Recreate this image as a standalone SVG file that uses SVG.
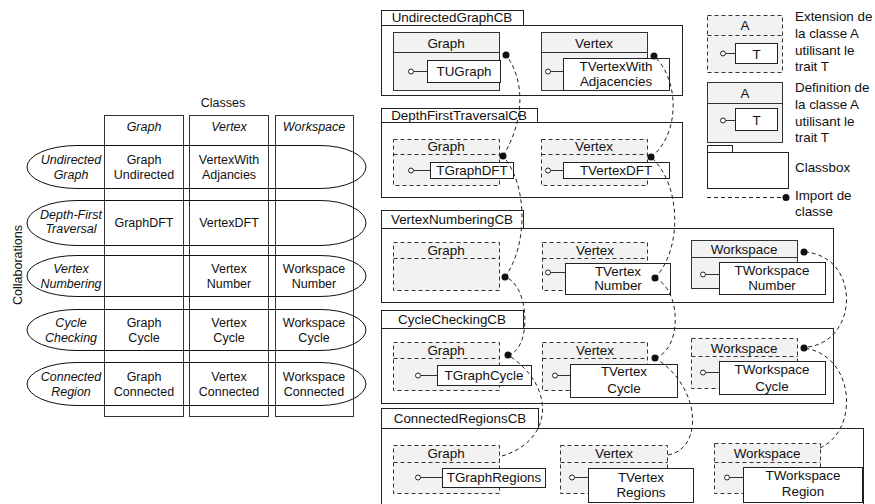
<svg xmlns="http://www.w3.org/2000/svg" width="875" height="504" viewBox="0 0 875 504">
<style>
text{font-family:"Liberation Sans",Arial,sans-serif;fill:#111}
.t{font-size:12.5px;text-anchor:middle}
.i{font-style:italic}
.r{font-size:13.4px;text-anchor:middle}
.l{font-size:13.4px}
.col{fill:none;stroke:#333;stroke-width:1}
.ell{fill:none;stroke:#111;stroke-width:1}
.cb{fill:#fff;stroke:#222;stroke-width:1}
.cls{fill:#f2f2f2;stroke:#333;stroke-width:1}
.ext{fill:#f2f2f2;stroke:#333;stroke-width:1;stroke-dasharray:4 3}
.div{stroke:#333;stroke-width:1;fill:none}
.divd{stroke:#333;stroke-width:1;fill:none;stroke-dasharray:4 3}
.tr{fill:#fff;stroke:#222;stroke-width:1}
.pin{fill:#fff;stroke:#222;stroke-width:1}
.imp{fill:none;stroke:#222;stroke-width:1;stroke-dasharray:4 3}
.dot{fill:#111}
</style>

<!-- Left table -->
<g id="table">
  <text class="t" x="223" y="107">Classes</text>
  <rect class="col" x="104.5" y="115.5" width="79" height="301"/>
  <rect class="col" x="189.5" y="115.5" width="79" height="301"/>
  <rect class="col" x="275.5" y="115.5" width="78" height="301"/>
  <text class="t i" x="144" y="131">Graph</text>
  <text class="t i" x="229" y="131">Vertex</text>
  <text class="t i" x="314" y="131">Workspace</text>
  <text class="t" transform="translate(22,265) rotate(-90)">Collaborations</text>
</g>
<g id="row-undirected">
  <path class="ell" d="M77,145.5 H320 A46,21.5 0 0 1 320,188.5 H77 A50,21.5 0 0 1 77,145.5 Z"/>
  <text class="t i" x="71" y="164">Undirected</text>
  <text class="t i" x="71" y="179">Graph</text>
  <text class="t" x="144" y="164">Graph</text>
  <text class="t" x="144" y="179">Undirected</text>
  <text class="t" x="229" y="164">VertexWith</text>
  <text class="t" x="229" y="179">Adjancies</text>
</g>
<g id="row-dft">
  <path class="ell" d="M77,200.5 H320 A46,22.5 0 0 1 320,245.5 H77 A50,22.5 0 0 1 77,200.5 Z"/>
  <text class="t i" x="71" y="219">Depth-First</text>
  <text class="t i" x="71" y="233">Traversal</text>
  <text class="t" x="144" y="227">GraphDFT</text>
  <text class="t" x="229" y="227">VertexDFT</text>
</g>
<g id="row-numbering">
  <path class="ell" d="M77,255.5 H320 A46,20.5 0 0 1 320,296.5 H77 A50,20.5 0 0 1 77,255.5 Z"/>
  <text class="t i" x="71" y="273">Vertex</text>
  <text class="t i" x="71" y="288">Numbering</text>
  <text class="t" x="229" y="273">Vertex</text>
  <text class="t" x="229" y="288">Number</text>
  <text class="t" x="314" y="273">Workspace</text>
  <text class="t" x="314" y="288">Number</text>
</g>
<g id="row-cycle">
  <path class="ell" d="M77,309.5 H320 A46,20.5 0 0 1 320,350.5 H77 A50,20.5 0 0 1 77,309.5 Z"/>
  <text class="t i" x="71" y="327">Cycle</text>
  <text class="t i" x="71" y="342">Checking</text>
  <text class="t" x="144" y="327">Graph</text>
  <text class="t" x="144" y="342">Cycle</text>
  <text class="t" x="229" y="327">Vertex</text>
  <text class="t" x="229" y="342">Cycle</text>
  <text class="t" x="314" y="327">Workspace</text>
  <text class="t" x="314" y="342">Cycle</text>
</g>
<g id="row-connected">
  <path class="ell" d="M77,362.5 H320 A46,21.5 0 0 1 320,405.5 H77 A50,21.5 0 0 1 77,362.5 Z"/>
  <text class="t i" x="71" y="381">Connected</text>
  <text class="t i" x="71" y="396">Region</text>
  <text class="t" x="144" y="381">Graph</text>
  <text class="t" x="144" y="396">Connected</text>
  <text class="t" x="229" y="381">Vertex</text>
  <text class="t" x="229" y="396">Connected</text>
  <text class="t" x="314" y="381">Workspace</text>
  <text class="t" x="314" y="396">Connected</text>
</g>

<!-- Classboxes -->
<g id="UndirectedGraphCB">
  <rect class="cb" x="381.5" y="10.5" width="142" height="15"/>
  <text class="r" x="452" y="22">UndirectedGraphCB</text>
  <rect class="cb" x="381.5" y="25.5" width="301" height="70"/>
  <g id="UG-Graph">
    <rect class="cls" x="393.5" y="32.5" width="106" height="58"/>
    <line class="div" x1="393.5" y1="52.5" x2="499.5" y2="52.5"/>
    <text class="r" x="446" y="47.5">Graph</text>
    <line class="div" x1="413.5" y1="71.5" x2="427.5" y2="71.5"/>
    <circle class="pin" cx="411" cy="71.5" r="2.5"/>
    <rect class="tr" x="427.5" y="60.5" width="73" height="22"/>
    <text class="r" x="464" y="76">TUGraph</text>
  </g>
  <g id="UG-Vertex">
    <rect class="cls" x="541.5" y="32.5" width="106" height="58"/>
    <line class="div" x1="541.5" y1="52.5" x2="647.5" y2="52.5"/>
    <text class="r" x="594" y="47.5">Vertex</text>
    <line class="div" x1="550.5" y1="71.5" x2="563.5" y2="71.5"/>
    <circle class="pin" cx="548" cy="71.5" r="2.5"/>
    <rect class="tr" x="563.5" y="58.5" width="106" height="32"/>
    <text class="r" x="616" y="71">TVertexWith</text>
    <text class="r" x="616" y="86">Adjacencies</text>
  </g>
</g>

<g id="DepthFirstTraversalCB">
  <rect class="cb" x="381.5" y="108.5" width="156" height="14"/>
  <text class="r" x="459" y="120">DepthFirstTraversalCB</text>
  <rect class="cb" x="381.5" y="122.5" width="301" height="75"/>
  <g id="DFT-Graph">
    <rect class="ext" x="393.5" y="139.5" width="106" height="46"/>
    <line class="divd" x1="393.5" y1="154.5" x2="499.5" y2="154.5"/>
    <text class="r" x="446" y="151">Graph</text>
    <line class="div" x1="413.5" y1="170.5" x2="430.5" y2="170.5"/>
    <circle class="pin" cx="411" cy="170.5" r="2.5"/>
    <rect class="tr" x="430.5" y="162.5" width="83" height="16"/>
    <text class="r" x="472" y="175">TGraphDFT</text>
  </g>
  <g id="DFT-Vertex">
    <rect class="ext" x="541.5" y="139.5" width="106" height="46"/>
    <line class="divd" x1="541.5" y1="154.5" x2="647.5" y2="154.5"/>
    <text class="r" x="594" y="151">Vertex</text>
    <line class="div" x1="550.5" y1="170.5" x2="563.5" y2="170.5"/>
    <circle class="pin" cx="548" cy="170.5" r="2.5"/>
    <rect class="tr" x="563.5" y="162.5" width="106" height="16"/>
    <text class="r" x="616" y="175">TVertexDFT</text>
  </g>
</g>

<g id="VertexNumberingCB">
  <rect class="cb" x="381.5" y="210.5" width="142" height="18"/>
  <text class="r" x="452" y="224">VertexNumberingCB</text>
  <rect class="cb" x="381.5" y="228.5" width="452" height="74"/>
  <g id="VN-Graph">
    <rect class="ext" x="393.5" y="242.5" width="106" height="48"/>
    <line class="divd" x1="393.5" y1="258.5" x2="499.5" y2="258.5"/>
    <text class="r" x="446" y="255">Graph</text>
  </g>
  <g id="VN-Vertex">
    <rect class="ext" x="542.5" y="242.5" width="105" height="48"/>
    <line class="divd" x1="542.5" y1="258.5" x2="647.5" y2="258.5"/>
    <text class="r" x="595" y="255">Vertex</text>
    <line class="div" x1="550.5" y1="272.5" x2="565.5" y2="272.5"/>
    <circle class="pin" cx="548" cy="272.5" r="2.5"/>
    <rect class="tr" x="565.5" y="263.5" width="105" height="31"/>
    <text class="r" x="618" y="276">TVertex</text>
    <text class="r" x="618" y="290">Number</text>
  </g>
  <g id="VN-Workspace">
    <rect class="cls" x="691.5" y="240.5" width="106" height="48"/>
    <line class="div" x1="691.5" y1="257.5" x2="797.5" y2="257.5"/>
    <text class="r" x="744" y="253.5">Workspace</text>
    <line class="div" x1="705.5" y1="274.5" x2="719.5" y2="274.5"/>
    <circle class="pin" cx="703" cy="274.5" r="2.5"/>
    <rect class="tr" x="719.5" y="262.5" width="106" height="32"/>
    <text class="r" x="772" y="274.5">TWorkspace</text>
    <text class="r" x="772" y="290">Number</text>
  </g>
</g>

<g id="CycleCheckingCB">
  <rect class="cb" x="381.5" y="310.5" width="142" height="18"/>
  <text class="r" x="452" y="324">CycleCheckingCB</text>
  <rect class="cb" x="381.5" y="328.5" width="452" height="75"/>
  <g id="CC-Graph">
    <rect class="ext" x="393.5" y="342.5" width="106" height="48"/>
    <line class="divd" x1="393.5" y1="358.5" x2="499.5" y2="358.5"/>
    <text class="r" x="446" y="355">Graph</text>
    <line class="div" x1="420.5" y1="375.5" x2="437.5" y2="375.5"/>
    <circle class="pin" cx="418" cy="375.5" r="2.5"/>
    <rect class="tr" x="437.5" y="365.5" width="94" height="20"/>
    <text class="r" x="484" y="380">TGraphCycle</text>
  </g>
  <g id="CC-Vertex">
    <rect class="ext" x="542.5" y="342.5" width="105" height="48"/>
    <line class="divd" x1="542.5" y1="358.5" x2="647.5" y2="358.5"/>
    <text class="r" x="595" y="355">Vertex</text>
    <line class="div" x1="557.5" y1="375.5" x2="570.5" y2="375.5"/>
    <circle class="pin" cx="555" cy="375.5" r="2.5"/>
    <rect class="tr" x="570.5" y="364.5" width="107" height="33"/>
    <text class="r" x="624" y="376">TVertex</text>
    <text class="r" x="624" y="392.5">Cycle</text>
  </g>
  <g id="CC-Workspace">
    <rect class="ext" x="691.5" y="338.5" width="106" height="50"/>
    <line class="divd" x1="691.5" y1="356.5" x2="797.5" y2="356.5"/>
    <text class="r" x="744" y="352.5">Workspace</text>
    <line class="div" x1="705.5" y1="372.5" x2="719.5" y2="372.5"/>
    <circle class="pin" cx="703" cy="372.5" r="2.5"/>
    <rect class="tr" x="719.5" y="361.5" width="106" height="33"/>
    <text class="r" x="772" y="374">TWorkspace</text>
    <text class="r" x="772" y="390.5">Cycle</text>
  </g>
</g>

<g id="ConnectedRegionsCB">
  <rect class="cb" x="381.5" y="408.5" width="157" height="20"/>
  <text class="r" x="460" y="423">ConnectedRegionsCB</text>
  <rect class="cb" x="381.5" y="428.5" width="482" height="90"/>
  <g id="CR-Graph">
    <rect class="ext" x="393.5" y="445.5" width="106" height="48"/>
    <line class="divd" x1="393.5" y1="462.5" x2="499.5" y2="462.5"/>
    <text class="r" x="446" y="458">Graph</text>
    <line class="div" x1="420.5" y1="477.5" x2="442.5" y2="477.5"/>
    <circle class="pin" cx="418" cy="477.5" r="2.5"/>
    <rect class="tr" x="442.5" y="468.5" width="103" height="19"/>
    <text class="r" x="494" y="482">TGraphRegions</text>
  </g>
  <g id="CR-Vertex">
    <rect class="ext" x="560.5" y="445.5" width="107" height="48"/>
    <line class="divd" x1="560.5" y1="462.5" x2="667.5" y2="462.5"/>
    <text class="r" x="614" y="458">Vertex</text>
    <line class="div" x1="574.5" y1="477.5" x2="588.5" y2="477.5"/>
    <circle class="pin" cx="572" cy="477.5" r="2.5"/>
    <rect class="tr" x="588.5" y="468.5" width="105" height="34"/>
    <text class="r" x="641" y="481.5">TVertex</text>
    <text class="r" x="641" y="497">Regions</text>
  </g>
  <g id="CR-Workspace">
    <rect class="ext" x="714.5" y="443.5" width="106" height="50"/>
    <line class="divd" x1="714.5" y1="462.5" x2="820.5" y2="462.5"/>
    <text class="r" x="767" y="458">Workspace</text>
    <line class="div" x1="729.5" y1="477.5" x2="743.5" y2="477.5"/>
    <circle class="pin" cx="727" cy="477.5" r="2.5"/>
    <rect class="tr" x="743.5" y="467.5" width="119" height="35"/>
    <text class="r" x="803" y="480">TWorkspace</text>
    <text class="r" x="803" y="496">Region</text>
  </g>
</g>

<!-- Legend -->
<g id="legend-extension">
  <rect class="ext" x="707.5" y="15.5" width="75" height="57"/>
  <line class="divd" x1="707.5" y1="35.5" x2="782.5" y2="35.5"/>
  <text class="r" x="745" y="30">A</text>
  <line class="div" x1="725.5" y1="53.5" x2="735.5" y2="53.5"/>
  <circle class="pin" cx="723" cy="53.5" r="2.5"/>
  <rect class="tr" x="735.5" y="43.5" width="42" height="20"/>
  <text class="r" x="756.5" y="58.5">T</text>
  <text class="l" x="795" y="21">Extension de</text>
  <text class="l" x="795" y="38">la classe A</text>
  <text class="l" x="795" y="55">utilisant le</text>
  <text class="l" x="795" y="71">trait T</text>
</g>
<g id="legend-definition">
  <rect class="cls" x="707.5" y="82.5" width="75" height="60"/>
  <line class="div" x1="707.5" y1="103.5" x2="782.5" y2="103.5"/>
  <text class="r" x="745" y="97.5">A</text>
  <line class="div" x1="725.5" y1="120.5" x2="735.5" y2="120.5"/>
  <circle class="pin" cx="723" cy="120.5" r="2.5"/>
  <rect class="tr" x="735.5" y="108.5" width="42" height="22"/>
  <text class="r" x="756.5" y="124.5">T</text>
  <text class="l" x="795" y="92">Definition de</text>
  <text class="l" x="795" y="109">la classe A</text>
  <text class="l" x="795" y="126">utilisant le</text>
  <text class="l" x="795" y="142">trait T</text>
</g>
<g id="legend-classbox">
  <rect class="cb" x="707.5" y="145.5" width="25" height="7"/>
  <rect class="cb" x="707.5" y="152.5" width="81" height="36"/>
  <text class="l" x="795" y="172">Classbox</text>
</g>
<g id="legend-import">
  <line class="imp" x1="707" y1="197.5" x2="783" y2="197.5"/>
  <circle class="dot" cx="786" cy="197.5" r="3.5"/>
  <text class="l" x="795" y="200">Import de</text>
  <text class="l" x="795" y="216">classe</text>
</g>

<!-- Import connectors -->
<g id="connectors">
  <path class="imp" d="M503,156 C525,120 525,80 506,55"/>
  <path class="imp" d="M505,277 C528,245 528,185 503,156"/>
  <path class="imp" d="M508,355 C532,350 530,285 505,277"/>
  <path class="imp" d="M502,456 C555,440 555,385 508,355"/>
  <path class="imp" d="M651,157 C680,135 680,80 654,56"/>
  <path class="imp" d="M655,278 C682,250 682,185 651,157"/>
  <path class="imp" d="M655,358 C682,350 682,290 655,278"/>
  <path class="imp" d="M668,455 C705,448 700,385 655,358"/>
  <path class="imp" d="M808,347 C860,340 860,255 804,252"/>
  <path class="imp" d="M820,448 C860,430 855,355 804,348"/>
  <circle class="dot" cx="506" cy="55" r="3.5"/>
  <circle class="dot" cx="503" cy="156" r="3.5"/>
  <circle class="dot" cx="505" cy="277" r="3.5"/>
  <circle class="dot" cx="508" cy="355" r="3.5"/>
  <circle class="dot" cx="654" cy="56" r="3.5"/>
  <circle class="dot" cx="651" cy="157" r="3.5"/>
  <circle class="dot" cx="655" cy="278" r="3.5"/>
  <circle class="dot" cx="655" cy="358" r="3.5"/>
  <circle class="dot" cx="804" cy="252" r="3.5"/>
  <circle class="dot" cx="804" cy="348" r="3.5"/>
</g>
</svg>
